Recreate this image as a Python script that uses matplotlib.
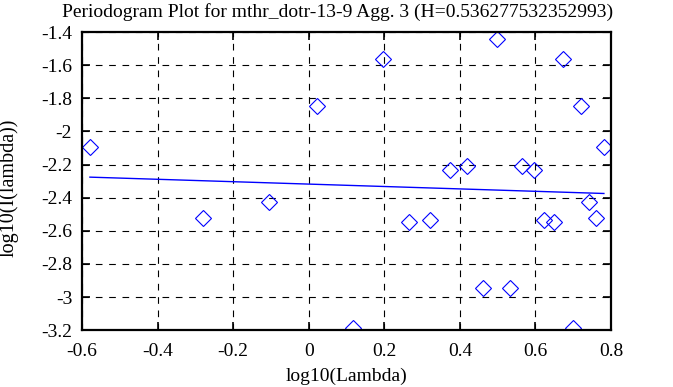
import matplotlib
matplotlib.use("Agg")
import matplotlib.pyplot as plt

# log10 of frequency and log10 of periodogram value
log_lambda = [-0.579, -0.280, -0.104, 0.021, 0.118, 0.197, 0.264, 0.322, 0.373,
              0.419, 0.460, 0.498, 0.533, 0.565, 0.595, 0.623, 0.649, 0.674,
              0.698, 0.720, 0.741, 0.761, 0.781]
log_periodogram = [-2.095, -2.522, -2.424, -1.845, -3.187, -1.560, -2.546, -2.534,
                   -2.235, -2.211, -2.943, -1.443, -2.943, -2.211, -2.235, -2.534,
                   -2.546, -1.560, -3.187, -1.845, -2.424, -2.522, -2.095]
fit_slope = -0.0726
fit_intercept = -2.318
title = "Periodogram Plot for mthr_dotr-13-9 Agg. 3 (H=0.536277532352993)"

plt.rcParams['font.family'] = ['Liberation Serif', 'DejaVu Serif']

fig = plt.figure(figsize=(6.73, 3.87), dpi=100)
ax = fig.add_axes([0.1218, 0.147, 0.7862, 0.770])

ax.plot(log_lambda, log_periodogram, linestyle='none', marker='D', markersize=8.5,
        markerfacecolor='none', markeredgecolor='blue', markeredgewidth=0.8)
x_ends = [log_lambda[0], log_lambda[-1]]
ax.plot(x_ends, [fit_intercept + fit_slope * x for x in x_ends], color='blue', lw=1)

ax.set_xlim(-0.6, 0.8)
ax.set_ylim(-3.2, -1.4)
ax.set_xticks([-0.6, -0.4, -0.2, 0, 0.2, 0.4, 0.6, 0.8])
ax.set_xticklabels(['-0.6', '-0.4', '-0.2', '0', '0.2', '0.4', '0.6', '0.8'])
ax.set_yticks([-3.2, -3, -2.8, -2.6, -2.4, -2.2, -2, -1.8, -1.6, -1.4])
ax.set_yticklabels(['-3.2', '-3', '-2.8', '-2.6', '-2.4', '-2.2', '-2', '-1.8', '-1.6', '-1.4'])
ax.grid(True, color='black', linestyle=(0, (6, 6)), linewidth=0.8)
ax.tick_params(direction='in', top=True, right=True, length=6, width=1.2, labelsize=14)
ax.tick_params(axis='x', pad=9)
ax.tick_params(axis='y', pad=7)
for s in ax.spines.values():
    s.set_linewidth(1.6)

ax.set_title(title, fontsize=14, pad=11, x=0.484)
ax.set_xlabel('log10(Lambda)', fontsize=14, labelpad=6)
ax.set_ylabel('log10(I(lambda))', fontsize=14.5)
ax.yaxis.set_label_coords(-0.12, 0.477)

fig.savefig('out.png', dpi=100)
